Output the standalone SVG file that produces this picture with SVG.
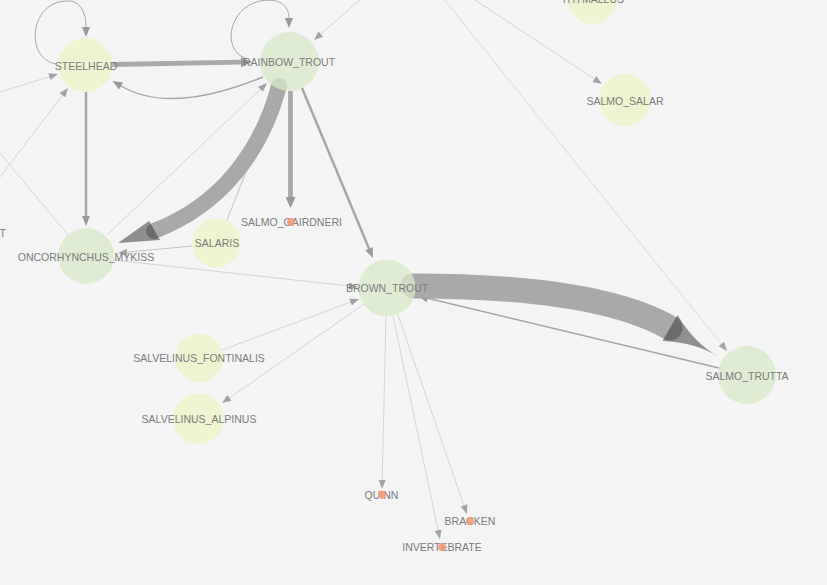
<svg xmlns="http://www.w3.org/2000/svg" width="827" height="585" viewBox="0 0 827 585">
<style>
.lbl{font-family:"Liberation Sans",Arial,sans-serif;font-size:10.5px;fill:#7b7b7b;text-anchor:middle}
.nG{fill:#d9e8c8;fill-opacity:0.75}
.nY{fill:#ecf4c4;fill-opacity:0.75}
.nO{fill:#f29a74;fill-opacity:0.85}
.e1{fill:none;stroke:#cbcbcb;stroke-width:0.8}
.e2{fill:none;stroke:#a6a6a6;stroke-width:1.4}
.e3{fill:none;stroke:#a6a6a6;stroke-width:2.4}
.e5{fill:none;stroke:#a9a9a9;stroke-width:4.8}
.band{fill:none;stroke:#a9a9a9;stroke-linecap:round}
.bhead{fill:#323232;fill-opacity:0.52}
</style>
<defs>
<marker id="aS" markerUnits="userSpaceOnUse" viewBox="0 0 9 7" markerWidth="9" markerHeight="7" refX="0" refY="3.5" orient="auto" overflow="visible"><path d="M0,0 L9,3.5 L0,7z" fill="#a3a3a3"/></marker>
<marker id="aM" markerUnits="userSpaceOnUse" viewBox="0 0 10 8" markerWidth="10" markerHeight="8" refX="0" refY="4" orient="auto" overflow="visible"><path d="M0,0 L10,4 L0,8z" fill="#999"/></marker>
<marker id="aL" markerUnits="userSpaceOnUse" viewBox="0 0 11 10" markerWidth="11" markerHeight="10" refX="0" refY="5" orient="auto" overflow="visible"><path d="M0,0 L11,5 L0,10z" fill="#999"/></marker>
</defs>
<rect width="827" height="585" fill="#f4f4f4"/>
<g id="edges">
<!-- thin edges -->
<line class="e1" x1="0" y1="92" x2="49.4" y2="76.7" marker-end="url(#aS)"/>
<line class="e1" x1="-5" y1="183.5" x2="62.5" y2="95.2" marker-end="url(#aS)"/>
<line class="e1" x1="68" y1="235" x2="-10" y2="141"/>
<line class="e1" x1="362" y1="-2" x2="320.8" y2="34.1" marker-end="url(#aS)"/>
<line class="e1" x1="472" y1="-2" x2="594.5" y2="79" marker-end="url(#aS)"/>
<line class="e1" x1="443" y1="-2" x2="721.4" y2="344" marker-end="url(#aS)" style="stroke:#d2d2d2"/>
<line class="e1" x1="107" y1="235" x2="260.5" y2="89.2" marker-end="url(#aS)"/>
<line class="e1" x1="227" y1="220" x2="274.2" y2="100.4" marker-end="url(#aS)" style="stroke:#b8b8b8"/>
<line class="e1" x1="192" y1="246" x2="127" y2="252.2" marker-end="url(#aS)" style="stroke:#b8b8b8"/>
<line class="e1" x1="113" y1="260" x2="349.1" y2="286" marker-end="url(#aS)"/>
<line class="e1" x1="222" y1="350" x2="350.6" y2="302.1" marker-end="url(#aS)"/>
<line class="e1" x1="364" y1="304" x2="229.4" y2="397.9" marker-end="url(#aS)"/>
<line class="e1" x1="386" y1="316" x2="382.2" y2="480" marker-end="url(#aS)"/>
<line class="e1" x1="393" y1="316" x2="438.1" y2="530.2" marker-end="url(#aS)"/>
<line class="e1" x1="398" y1="315" x2="464" y2="505.5" marker-end="url(#aS)"/>
<!-- self loops -->
<path class="e2" style="stroke-width:1" d="M56,64 C24,58 30,2 66,1 C80,0 86,12 86,27" marker-end="url(#aM)"/>
<path class="e2" style="stroke-width:1" d="M245,58 C222,50 228,8 260,1 C282,-3 289,8 289,18" marker-end="url(#aM)"/>
<!-- medium edges -->
<path class="e2" d="M263,77 Q170,115 121,86" marker-end="url(#aM)"/>
<line class="e2" x1="719" y1="368" x2="427.7" y2="298.3" marker-end="url(#aM)"/>
<line class="e3" x1="86" y1="92" x2="86" y2="216" marker-end="url(#aM)"/>
<line class="e3" x1="302" y1="88" x2="369.1" y2="248.8" marker-end="url(#aM)"/>
<!-- thick edges -->
<line class="e5" x1="112" y1="64.5" x2="241" y2="62.2" marker-end="url(#aL)"/>
<line class="e5" x1="290.5" y1="91" x2="290.5" y2="197" marker-end="url(#aL)"/>
<!-- bands -->
<path class="band" stroke-width="16" d="M279,86 C262,150 222,205 154,231"/>
<polygon class="bhead" points="149,221 160,240 118,243"/>
<path class="band" stroke-width="25" d="M413,286 Q597,286 670,328"/>
<path class="bhead" d="M677.5,315 Q694,343 719,357 Q695,342 662.5,341 Z"/>
</g>
<g id="n-steelhead"><circle class="nY" cx="85.5" cy="65" r="27"/><text class="lbl" x="86" y="70">STEELHEAD</text></g>
<g id="n-rainbow"><circle class="nG" cx="289.5" cy="61.5" r="29.5"/><text class="lbl" x="289" y="65.5">RAINBOW_TROUT</text></g>
<g id="n-oncorhynchus"><circle class="nG" cx="86" cy="256" r="28"/><text class="lbl" x="86" y="260.5">ONCORHYNCHUS_MYKISS</text></g>
<g id="n-salaris"><circle class="nY" cx="216.5" cy="243" r="24.5"/><text class="lbl" x="217" y="247">SALARIS</text></g>
<g id="n-gairdneri"><text class="lbl" x="291.5" y="226">SALMO_GAIRDNERI</text><circle class="nO" cx="291" cy="222" r="4"/></g>
<g id="n-brown"><circle class="nG" cx="387" cy="288" r="28.5"/><text class="lbl" x="387" y="292">BROWN_TROUT</text></g>
<g id="n-trutta"><circle class="nG" cx="747" cy="375" r="29"/><text class="lbl" x="747" y="379.5">SALMO_TRUTTA</text></g>
<g id="n-salar"><circle class="nY" cx="625" cy="100" r="26"/><text class="lbl" x="625" y="104.5">SALMO_SALAR</text></g>
<g id="n-thymallus"><circle class="nY" cx="592.5" cy="-0.5" r="24.5"/><text class="lbl" x="592.5" y="3">THYMALLUS</text></g>
<g id="n-fontinalis"><circle class="nY" cx="199" cy="358" r="24"/><text class="lbl" x="199" y="362">SALVELINUS_FONTINALIS</text></g>
<g id="n-alpinus"><circle class="nY" cx="198.5" cy="418.5" r="25.5"/><text class="lbl" x="199" y="423">SALVELINUS_ALPINUS</text></g>
<g id="n-quinn"><text class="lbl" x="381.5" y="498.5">QUINN</text><circle class="nO" cx="382" cy="494.5" r="4"/></g>
<g id="n-bracken"><text class="lbl" x="470" y="525">BRACKEN</text><circle class="nO" cx="470" cy="521" r="4"/></g>
<g id="n-invertebrate"><text class="lbl" x="442" y="550.5">INVERTEBRATE</text><circle class="nO" cx="442" cy="547" r="4"/></g>
<g id="n-left"><text class="lbl" x="6" y="237" style="text-anchor:end">T</text></g>
</svg>
